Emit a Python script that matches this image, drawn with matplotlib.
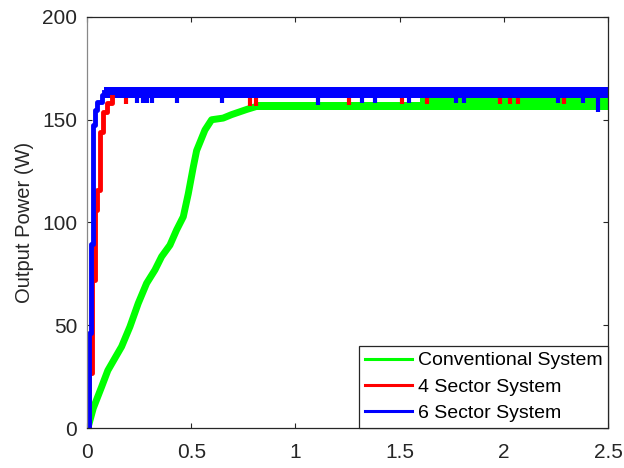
import matplotlib.pyplot as plt
from matplotlib.lines import Line2D

# Values: time (s) vs output power (W)

# Conventional system: slow ramp, then a steady band
conv_t = [0, 0.006, 0.03, 0.07, 0.10, 0.134, 0.166, 0.206, 0.246, 0.286, 0.326,
          0.358, 0.398, 0.43, 0.462, 0.486, 0.51, 0.526, 0.542, 0.566, 0.598,
          0.653, 0.694, 0.766, 0.814]
conv_p = [0, 0.6, 9.6, 20, 28, 34, 39.6, 49.3, 60.7, 70.4, 76.9,
          83.4, 89, 96.4, 102.8, 114, 127, 135, 139, 145, 150,
          150.8, 152.5, 155, 156.5]
conv_band_t = [0.80, 1.60, 1.60, 2.50]
conv_band_lo = [154.8, 154.8, 154.8, 154.8]
conv_band_hi = [158.4, 158.4, 161.0, 161.0]

# 4 sector system: stepped start-up, steady band (mostly under the 6 sector one), dips
four_t = [0, 0.009, 0.022, 0.04, 0.05, 0.061, 0.077, 0.094, 0.12]
four_p = [0, 27, 72, 106, 116, 144, 154, 158, 161]
four_band_t = [0.12, 2.50]
four_band_lo = [160.6, 160.6]
four_band_hi = [165.6, 165.6]
four_dip_t = [0.187, 0.78, 0.81, 1.257, 1.51, 1.63, 1.98, 2.03, 2.07, 2.29]
four_dip_p = [157.5, 156.5, 156.5, 157, 157.5, 157.5, 157.5, 157.5, 157.5, 157.5]

# 6 sector system
six_t = [0, 0.008, 0.017, 0.028, 0.038, 0.05, 0.07, 0.083]
six_p = [0, 46, 89.5, 147.5, 154.7, 158.8, 162, 163.5]
six_band_t = [0.083, 2.50]
six_band_lo = [160.5, 160.5]
six_band_hi = [165.8, 165.8]
six_dip_t = [0.238, 0.267, 0.29, 0.31, 0.43, 0.646, 1.11, 1.32, 1.38, 1.545,
             1.77, 1.81, 2.26, 2.38, 2.45]
six_dip_p = [158, 158, 158, 158, 158, 158, 157, 158, 158, 158,
             158, 158, 158, 158, 154]

labels = ["Conventional System", "4 Sector System", "6 Sector System"]
colors = ["#00ff00", "#ff0000", "#0000ff"]
x_ticks = [0, 0.5, 1, 1.5, 2, 2.5]
x_tick_labels = ["0", "0.5", "1", "1.5", "2", "2.5"]
y_ticks = [0, 50, 100, 150, 200]

plt.rcParams["font.family"] = ["Liberation Sans", "DejaVu Sans"]
axis_color = "#262626"

fig = plt.figure(figsize=(6.24, 4.68), dpi=100)
ax = fig.add_axes([87 / 624, 40 / 468, 521 / 624, 411 / 468])

# Conventional system
ax.plot(conv_t, conv_p, color=colors[0], lw=5)
ax.fill_between(conv_band_t, conv_band_lo, conv_band_hi, color=colors[0], lw=0)

# 4 sector system
ax.plot(four_t, four_p, color=colors[1], lw=3.5, drawstyle="steps-post")
ax.fill_between(four_band_t, four_band_lo, four_band_hi, color=colors[1], lw=0)
ax.vlines(four_dip_t, four_dip_p, four_band_lo[0], color=colors[1], lw=3)

# 6 sector system
ax.plot(six_t, six_p, color=colors[2], lw=3.5, drawstyle="steps-post")
ax.fill_between(six_band_t, six_band_lo, six_band_hi, color=colors[2], lw=0)
ax.vlines(six_dip_t, six_dip_p, six_band_lo[0], color=colors[2], lw=3)

ax.set_xlim(0, 2.5)
ax.set_ylim(0, 200)
ax.set_xticks(x_ticks)
ax.set_xticklabels(x_tick_labels)
ax.set_yticks(y_ticks)
ax.tick_params(direction="in", length=3.5, width=0.8, colors=axis_color,
               labelsize=15, top=True, right=True)
ax.tick_params(axis="y", pad=7)
ax.tick_params(axis="x", pad=11)
for side in ["top", "right", "bottom"]:
    ax.spines[side].set_color(axis_color)
    ax.spines[side].set_linewidth(0.9)
ax.spines["left"].set_color("#888888")
ax.spines["left"].set_linewidth(0.9)

ax.set_ylabel("Output Power (W)", fontsize=14.5, color=axis_color, labelpad=6)

# Legend with thinner proxy lines, sitting in the lower right corner
handles = [Line2D([0], [0], color=c, lw=2.2) for c in colors]
leg = ax.legend(handles, labels, loc="lower right", fontsize=14,
                borderaxespad=0, fancybox=False, framealpha=1,
                handlelength=2.4, handletextpad=0.3, labelspacing=0.45,
                borderpad=0.3)
leg.get_frame().set_edgecolor(axis_color)
leg.get_frame().set_linewidth(0.9)

fig.savefig("out.png", dpi=100)
